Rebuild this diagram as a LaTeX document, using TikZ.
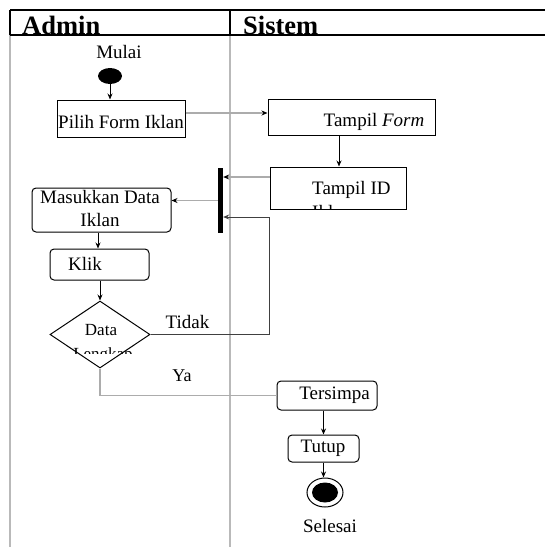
\documentclass[tikz,border=0pt]{standalone}
\usepackage{fontspec}
\setmainfont{Liberation Serif}
\usetikzlibrary{shapes.geometric,arrows.meta}
\begin{document}
\begin{tikzpicture}[x=1pt,y=-1pt,
  txt/.style={font=\fontsize{19}{23}\selectfont, inner sep=0pt},
  head/.style={font=\bfseries\fontsize{26.5}{30}\selectfont, inner sep=0pt, anchor=base west},
  actbox/.style={draw, line width=1pt, inner sep=0pt},
  roundbox/.style={actbox, rounded corners=4pt},
  flow/.style={line width=0.9pt, -{Stealth[length=6pt,width=5pt]}},
  grayflow/.style={line width=1.3pt, draw=gray!65, -{Stealth[length=6pt,width=5pt,black]}},
  lane/.style={draw=gray!55, line width=1.6pt},
  frame/.style={draw=black, line width=1.3pt}]
\useasboundingbox (0,0) rectangle (545,547);

% swimlane frame
\draw[lane] (10,35) -- (10,547);
\draw[lane] (230,35) -- (230,547);
\draw[frame] (10,10) -- (545,10);
\draw[frame] (10,35) -- (545,35);
\draw[frame] (10,10) -- (10,35);
\draw[frame] (230,10) -- (230,35);
\node[head] (hadmin) at (22,34) {Admin};
\node[head] (hsistem) at (243,34) {Sistem};

% start
\node[txt] (mulai) at (119,52) {Mulai};
\node[ellipse, fill=black, minimum width=24pt, minimum height=16pt, inner sep=0pt] (start) at (110,76) {};

% activities
\node[actbox, minimum width=128pt, minimum height=37pt] (pilih) at (121,118.5) {};
\node[txt] (pilihtxt) at (121,122) {Pilih Form Iklan};

\node[actbox, minimum width=167pt, minimum height=36pt] (tform) at (351.5,117) {};
\node[txt] (tformtxt) at (374,122) {Tampil \textit{Form}};

\node[actbox, minimum width=136pt, minimum height=42pt] (tid) at (338,188) {};
\node[txt, anchor=base west] (tidtxt) at (312,194.5) {Tampil ID};
\begin{scope}
  \clip (300,200) rectangle (400,209.5);
  \node[txt, anchor=base west] (tidtxt2) at (312,218) {Iklan};
\end{scope}

\node[fill=black, minimum width=5pt, minimum height=65pt, inner sep=0pt] (bar) at (220.5,200.5) {};

\node[roundbox, minimum width=139pt, minimum height=44pt] (masuk) at (101.5,210) {};
\node[txt, align=center] (masuktxt) at (100,208.5) {Masukkan Data\\Iklan};

\node[roundbox, minimum width=99pt, minimum height=31pt] (klik) at (99.5,264.5) {};
\node[txt, anchor=west] (kliktxt) at (68,264) {Klik};

\node[diamond, draw, line width=1pt, minimum width=100pt, minimum height=67pt, aspect=1.5, inner sep=0pt] (dia) at (100,334.5) {};
\node[txt, font=\fontsize{17}{20}\selectfont] (diatxt) at (101,330) {Data};
\begin{scope}
  \clip (70,340) rectangle (135,353);
  \node[txt, font=\fontsize{17}{20}\selectfont, anchor=base] (diatxt2) at (103,359) {Lengkap};
\end{scope}

\node[roundbox, minimum width=100pt, minimum height=29pt] (ters) at (327,395.5) {};
\node[txt] (terstxt) at (334.5,395) {Tersimpa};

\node[roundbox, minimum width=71pt, minimum height=27pt] (tutup) at (323.5,448.5) {};
\node[txt] (tutuptxt) at (323,448) {Tutup};

% end
\node[ellipse, draw, line width=1pt, minimum width=36pt, minimum height=29pt, inner sep=0pt] (endo) at (325,492.5) {};
\node[ellipse, fill=black, minimum width=26pt, minimum height=20pt, inner sep=0pt] (endi) at (325,492.5) {};
\node[txt] (selesai) at (330,526) {Selesai};

% flows
\draw[flow] (start.south) -- (start.south |- pilih.north);
\draw[grayflow] ([yshift=5.5pt]pilih.east) -- ([yshift=5.5pt]pilih.east -| tform.west);
\draw[flow] ([xshift=-12.5pt]tform.south) -- ([xshift=-12.5pt]tform.south |- tid.north);
\draw[grayflow] ([yshift=11pt]tid.west) -- ([yshift=11pt]tid.west -| bar.east);
\draw[grayflow] (bar.west) -- (bar.west -| masuk.east);
\draw[flow] ([xshift=-3.5pt]masuk.south) -- ([xshift=-3.5pt]masuk.south |- klik.north);
\draw[flow] (klik.south -| dia.north) -- (dia.north);
\draw[flow, draw=black!75] (dia.east) -- (dia.east -| tid.west)
  -- ([yshift=-16.5pt]bar.east -| tid.west) -- ([yshift=-16.5pt]bar.east);
\node[txt] (tidak) at (187.5,322) {Tidak};
\draw[line width=1.3pt, draw=gray!65] (dia.south) |- (ters.west);
\node[txt, font=\fontsize{18}{21}\selectfont] (ya) at (182,376) {Ya};
\draw[flow] (ters.south -| tutup.north) -- (tutup.north);
\draw[flow] (tutup.south) -- (tutup.south |- endo.north);
\end{tikzpicture}
\end{document}
